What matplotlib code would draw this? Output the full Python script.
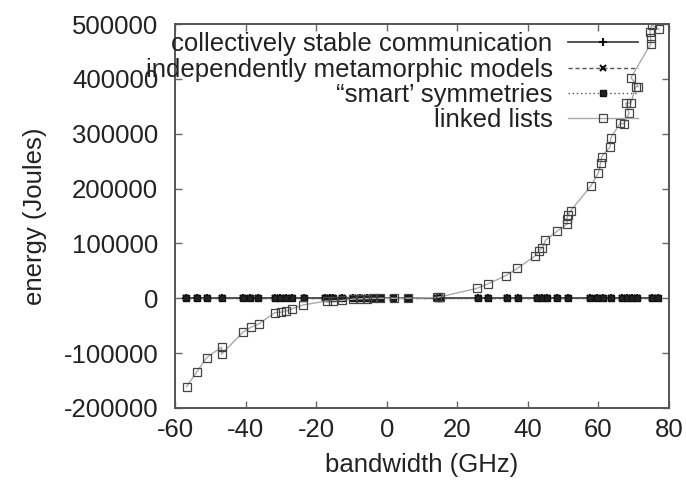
import matplotlib
matplotlib.use("Agg")
import matplotlib.pyplot as plt

plt.rcParams["font.family"] = ["Liberation Sans", "DejaVu Sans"]

# shared x positions of the three flat series (GHz)
flat_bw = [-56.9, -53.9, -50.8, -46.7, -40.8, -38.7, -36.4, -31.7, -30.2, -28.4,
           -26.7, -23.4, -17.5, -16.1, -15.1, -12.8, -9.5, -7.6, -5.7, -3.8,
           -1.9, 1.9, 6.1, 14.2, 15.1, 25.9, 28.8, 34.0, 37.3, 42.5,
           43.9, 45.3, 48.2, 51.5, 57.6, 59.5, 61.4, 63.7, 66.6, 68.0,
           69.4, 70.8, 75.1, 77.0]
stable_energy = [0] * len(flat_bw)
metamorphic_energy = [0] * len(flat_bw)
smart_energy = [0] * len(flat_bw)

linked_bw = [-56.7, -53.9, -51.0, -46.8, -46.8, -40.8, -38.5, -36.3, -31.7, -30.0,
             -28.5, -26.7, -23.6, -17.0, -15.1, -12.8, -9.5, -7.6, -5.7, -3.8,
             -1.9, 2.0, 6.0, 14.2, 15.0, 25.5, 28.6, 33.8, 37.0, 42.0,
             43.2, 44.1, 45.0, 48.4, 51.2, 51.0, 51.4, 52.2, 57.9, 60.0,
             60.6, 60.9, 63.3, 63.5, 66.1, 67.2, 68.7, 67.7, 69.2, 70.6,
             71.3, 69.2, 74.8, 74.8, 74.6, 75.1, 77.2]
linked_energy = [-161000, -135000, -108000, -89000, -102000, -62000, -53000, -47000, -26000, -25500,
                 -23000, -19000, -12000, -5000, -4500, -4000, -1500, -1000, -500, -200,
                 0, 0, 200, 1500, 2500, 18000, 26000, 41500, 54600, 77000,
                 86800, 92300, 106000, 123000, 135400, 144000, 152000, 160000, 205000, 229000,
                 246000, 258000, 276000, 292000, 319000, 318000, 337000, 356000, 356000, 386000,
                 386000, 402000, 463500, 474000, 486000, 498000, 490000]

xticks = [-60, -40, -20, 0, 20, 40, 60, 80]
yticks = [-200000, -100000, 0, 100000, 200000, 300000, 400000, 500000]

fig = plt.figure(figsize=(6.86, 4.86), dpi=100)
ax = fig.add_axes([0.2551, 0.1605, 0.7201, 0.7901])

ax.plot(flat_bw, stable_energy, color="#333333", lw=1.2, ls="-",
        marker="+", ms=6, mew=1.5, mec="#111111", label="collectively stable communication")
ax.plot(flat_bw, metamorphic_energy, color="#555555", lw=1.0, ls=(0, (3, 2)),
        marker="x", ms=5, mew=1.5, mec="#111111", label="independently metamorphic models")
ax.plot(flat_bw, smart_energy, color="#555555", lw=1.0, ls=(0, (1, 2)),
        marker="s", ms=4, mec="#111111", mfc="#222222", label="\u201csmart\u2019 symmetries")
ax.plot(linked_bw, linked_energy, color="#aaaaaa", lw=1.0, ls="-",
        marker="s", ms=6, mfc="none", mec="#444444", mew=0.9, label="linked lists")

ax.set_xlim(-60, 80)
ax.set_ylim(-200000, 500000)
ax.set_xticks(xticks)
ax.set_yticks(yticks)
ax.set_xticklabels([str(t) for t in xticks])
ax.set_yticklabels([str(t) for t in yticks])

ax.tick_params(direction="in", length=5, width=1, color="#666666", labelsize=18.5,
               labelcolor="#222222", top=True, right=True)
ax.tick_params(axis="x", pad=7)
ax.tick_params(axis="y", pad=12)
for s in ax.spines.values():
    s.set_color("#555555")
    s.set_linewidth(1.4)

ax.set_xlabel("bandwidth (GHz)", fontsize=18.5, color="#222222", labelpad=8)
ax.set_ylabel("energy (Joules)", fontsize=18.5, color="#222222", labelpad=12)

leg = ax.legend(loc="upper right", bbox_to_anchor=(0.937, 0.978), frameon=False,
                markerfirst=False, fontsize=18.5, handlelength=2.7, handletextpad=0.62,
                labelspacing=0.05, borderpad=0, borderaxespad=0)
for t in leg.get_texts():
    t.set_color("#222222")

fig.savefig("out.png", dpi=100)
